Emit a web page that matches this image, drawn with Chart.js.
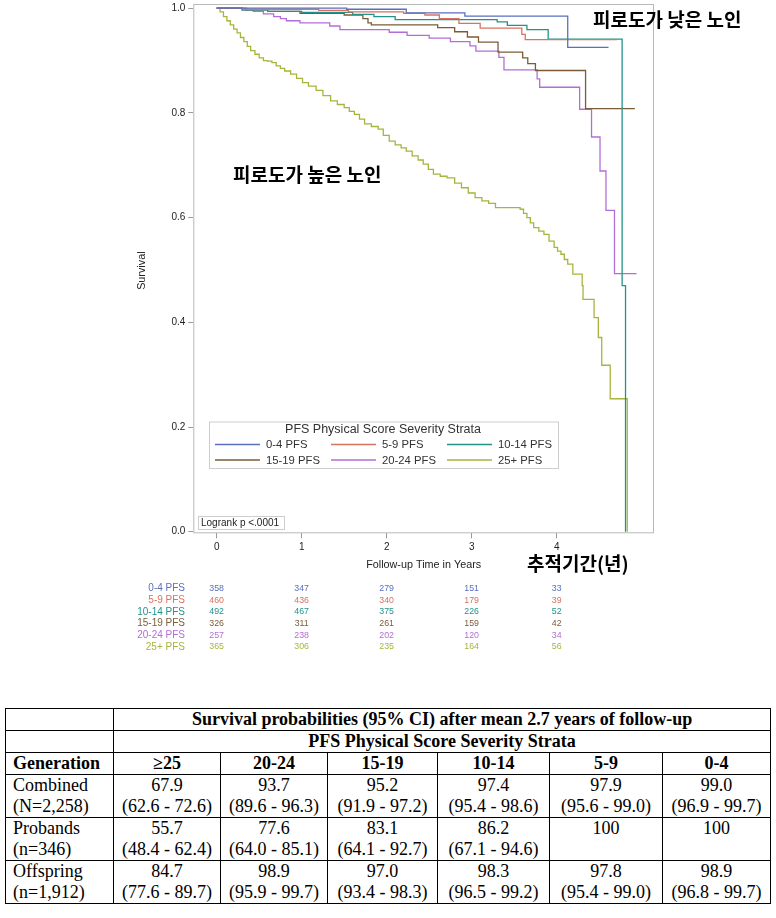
<!DOCTYPE html>
<html>
<head>
<meta charset="utf-8">
<script src="https://cdn.jsdelivr.net/npm/chart.js@4.4.1/dist/chart.umd.min.js"></script>
<style>
  html, body { margin: 0; padding: 0; background: #fff; }
  body { width: 776px; height: 918px; position: relative; overflow: hidden; }
  #km { position: absolute; left: 0; top: 0; }
  table {
    position: absolute; left: 5px; top: 708px; width: 765px;
    border-collapse: collapse; table-layout: fixed;
    font-family: "Liberation Serif", "Times New Roman", serif; font-size: 18px; color: #000;
  }
  td { border: 1.5px solid #000; padding: 0 4px; line-height: 21px; text-align: center; white-space: nowrap; }
  tr.h td { height: 21px; font-weight: bold; }
  tr.d td { height: 42px; }
  td.l { text-align: left; padding-left: 7px; }
</style>
</head>
<body>
<canvas id="km" width="776" height="700"></canvas>
<table>
  <colgroup>
    <col style="width:108px"><col style="width:107px"><col style="width:107px"><col style="width:110px">
    <col style="width:112px"><col style="width:113px"><col style="width:108px">
  </colgroup>
  <tbody id="tbl"></tbody>
</table>
<script>
// strata and colours
const strata = ["0-4 PFS", "5-9 PFS", "10-14 PFS", "15-19 PFS", "20-24 PFS", "25+ PFS"];
const colors = ["#5a6fbe", "#d8735f", "#23938a", "#7c5c38", "#b36ed6", "#a8b43c"];

// Kaplan-Meier steps (time in years, survival)
const t04 = [0, 1.53, 2.23, 2.92, 4.13, 4.61];
const s04 = [1, 0.998, 0.991, 0.985, 0.925, 0.925];

const t59 = [0, 0.3, 1.2, 1.55, 2.2, 2.45, 2.62, 2.85, 3.1, 3.59, 3.63, 4.71];
const s59 = [1, 0.998, 0.996, 0.993, 0.99, 0.987, 0.98, 0.971, 0.962, 0.95, 0.94, 0.94];

const t1014 = [0, 0.3, 0.6, 1.0, 1.6, 1.85, 2.1, 3.3, 3.42, 3.65, 3.9, 4.77, 4.81];
const s1014 = [1, 0.997, 0.994, 0.992, 0.988, 0.984, 0.978, 0.974, 0.967, 0.959, 0.941, 0.47, 0];

const t1519 = [0, 0.3, 0.6, 0.98, 1.5, 1.72, 1.78, 1.82, 2.6, 2.8, 2.95, 3.08, 3.31, 3.6, 3.66, 3.75, 4.34, 4.92];
const s1519 = [1, 0.997, 0.994, 0.99, 0.987, 0.98, 0.972, 0.968, 0.963, 0.955, 0.945, 0.935, 0.916, 0.905, 0.894, 0.881, 0.808, 0.808];

const t2024 = [0, 0.35, 0.43, 0.55, 0.67, 0.75, 0.82, 0.98, 1.33, 1.45, 2.03, 2.24, 2.5, 2.75, 2.98, 3.05, 3.32, 3.38, 3.77, 3.8, 4.27, 4.41, 4.51, 4.58, 4.68, 4.94];
const s2024 = [1, 0.997, 0.994, 0.989, 0.984, 0.98, 0.976, 0.972, 0.966, 0.959, 0.954, 0.948, 0.943, 0.936, 0.928, 0.918, 0.906, 0.882, 0.865, 0.849, 0.807, 0.754, 0.689, 0.614, 0.493, 0.493];

const t25 = [0, 0.04, 0.08, 0.12, 0.16, 0.2, 0.24, 0.28, 0.32, 0.36,
  0.40, 0.45, 0.5, 0.55, 0.6, 0.65, 0.7, 0.75, 0.8, 0.87,
  0.94, 1.01, 1.08, 1.17, 1.25, 1.34, 1.42, 1.5, 1.56, 1.62,
  1.68, 1.74, 1.82, 1.9, 1.96, 2.03, 2.1, 2.17, 2.23, 2.3,
  2.37, 2.43, 2.49, 2.55, 2.63, 2.71, 2.8, 2.88, 2.96, 3.04,
  3.12, 3.2, 3.28, 3.57, 3.61, 3.65, 3.69, 3.73, 3.79, 3.85,
  3.91, 3.97, 4.01, 4.05, 4.09, 4.13, 4.19, 4.3, 4.31, 4.44,
  4.49, 4.53, 4.63, 4.83];
const s25 = [1, 0.993, 0.984, 0.976, 0.968, 0.96, 0.953, 0.944, 0.936, 0.927,
  0.919, 0.912, 0.905, 0.9, 0.899, 0.896, 0.89, 0.885, 0.88, 0.874,
  0.866, 0.858, 0.851, 0.843, 0.833, 0.823, 0.816, 0.81, 0.803, 0.797,
  0.788, 0.779, 0.774, 0.769, 0.757, 0.746, 0.739, 0.733, 0.727, 0.718,
  0.71, 0.702, 0.692, 0.683, 0.679, 0.676, 0.666, 0.657, 0.647, 0.638,
  0.632, 0.627, 0.619, 0.616, 0.608, 0.6, 0.59, 0.581, 0.574, 0.568,
  0.555, 0.543, 0.536, 0.53, 0.52, 0.511, 0.492, 0.47, 0.444, 0.409,
  0.371, 0.318, 0.254, 0];

// numbers at risk
const riskTimes = [0, 1, 2, 3, 4];
const risk04 = [358, 347, 279, 151, 33];
const risk59 = [460, 436, 340, 179, 39];
const risk1014 = [492, 467, 375, 226, 52];
const risk1519 = [326, 311, 261, 159, 42];
const risk2024 = [257, 238, 202, 120, 34];
const risk25 = [365, 306, 235, 164, 56];

// table below the plot
const tableTitle = "Survival probabilities (95% CI) after mean 2.7 years of follow-up";
const tableSub = "PFS Physical Score Severity Strata";
const tableCols = ["\u226525", "20-24", "15-19", "10-14", "5-9", "0-4"];
const groups = ["Combined", "Probands", "Offspring"];
const groupN = ["(N=2,258)", "(n=346)", "(n=1,912)"];
const estCombined = ["67.9", "93.7", "95.2", "97.4", "97.9", "99.0"];
const ciCombined = ["(62.6 - 72.6)", "(89.6 - 96.3)", "(91.9 - 97.2)", "(95.4 - 98.6)", "(95.6 - 99.0)", "(96.9 - 99.7)"];
const estProbands = ["55.7", "77.6", "83.1", "86.2", "100", "100"];
const ciProbands = ["(48.4 - 62.4)", "(64.0 - 85.1)", "(64.1 - 92.7)", "(67.1 - 94.6)", "", ""];
const estOffspring = ["84.7", "98.9", "97.0", "98.3", "97.8", "98.9"];
const ciOffspring = ["(77.6 - 89.7)", "(95.9 - 99.7)", "(93.4 - 98.3)", "(96.5 - 99.2)", "(95.4 - 99.0)", "(96.8 - 99.7)"];

const curves = [[t04, s04], [t59, s59], [t1014, s1014], [t1519, s1519], [t2024, s2024], [t25, s25]];
const risks = [risk04, risk59, risk1014, risk1519, risk2024, risk25];

const SANS = '"Liberation Sans", Arial, sans-serif';
const KR = '"Noto Sans CJK KR", sans-serif';

const extras = {
  id: "extras",
  beforeDatasetsDraw(chart) {
    const { ctx, chartArea: a } = chart;
    ctx.save();
    ctx.strokeStyle = "#b9b9b9";
    ctx.lineWidth = 1;
    ctx.strokeRect(a.left + 0.5, a.top + 0.5, a.right - a.left - 1, a.bottom - a.top - 1);
    ctx.restore();
  },
  afterDatasetsDraw(chart) {
    const { ctx, chartArea: a, scales: { x } } = chart;
    ctx.save();

    // legend box
    const lx = 209, ly = 421.5, lw = 349, lh = 46.5;
    ctx.fillStyle = "#fff";
    ctx.fillRect(lx, ly, lw, lh);
    ctx.strokeStyle = "#cdcdcd";
    ctx.lineWidth = 1;
    ctx.strokeRect(lx + 0.5, ly + 0.5, lw, lh);
    ctx.fillStyle = "#333";
    ctx.font = "12.5px " + SANS;
    ctx.textAlign = "center";
    ctx.textBaseline = "middle";
    ctx.fillText("PFS Physical Score Severity Strata", lx + lw / 2 - 0.5, ly + 8);
    ctx.font = "11.3px " + SANS;
    ctx.textAlign = "left";
    const colX = [215, 331, 447];
    const rowY = [444.5, 460];
    strata.forEach((name, i) => {
      const cx = colX[i % 3], cy = rowY[Math.floor(i / 3)];
      ctx.strokeStyle = colors[i];
      ctx.lineWidth = 1.3;
      ctx.beginPath();
      ctx.moveTo(cx, cy);
      ctx.lineTo(cx + 45, cy);
      ctx.stroke();
      ctx.fillStyle = "#333";
      ctx.fillText(name, cx + 51, cy + 0.5);
    });

    // logrank box
    ctx.fillStyle = "#fff";
    ctx.fillRect(198, 516.5, 86, 13);
    ctx.strokeStyle = "#cdcdcd";
    ctx.lineWidth = 1;
    ctx.strokeRect(198.5, 516.5, 86, 13);
    ctx.fillStyle = "#222";
    ctx.font = "10px " + SANS;
    ctx.fillText("Logrank p <.0001", 201, 523.5);

    // axis titles
    ctx.font = "10.8px " + SANS;
    ctx.textAlign = "center";
    ctx.fillText("Follow-up Time in Years", (a.left + a.right) / 2, 565);
    ctx.save();
    ctx.translate(142, (a.top + a.bottom) / 2 + 2);
    ctx.rotate(-Math.PI / 2);
    ctx.fillText("Survival", 0, 0);
    ctx.restore();

    // numbers at risk
    strata.forEach((name, i) => {
      const ry = 588.5 + i * 11.65;
      ctx.fillStyle = colors[i];
      ctx.font = "10px " + SANS;
      ctx.textAlign = "right";
      ctx.fillText(name, 185, ry);
      ctx.font = "8.8px " + SANS;
      ctx.textAlign = "center";
      risks[i].forEach((n, j) => ctx.fillText(String(n), x.getPixelForValue(riskTimes[j]), ry));
    });

    // Korean annotations
    ctx.fillStyle = "#000";
    ctx.font = "bold 19px " + KR;
    ctx.textAlign = "left";
    ctx.fillText("피로도가 낮은 노인", 593, 20);
    ctx.fillText("피로도가 높은 노인", 233, 175);
    ctx.fillText("추적기간(년)", 527, 564);
    ctx.restore();
  }
};

new Chart(document.getElementById("km").getContext("2d"), {
  type: "line",
  data: {
    datasets: curves.map(([ts, ss], i) => ({
      label: strata[i],
      data: ts.map((t, k) => ({ x: t, y: ss[k] })),
      borderColor: colors[i],
      borderWidth: 1.3,
      stepped: "before",
      pointRadius: 0,
      fill: false,
    })),
  },
  options: {
    responsive: false,
    animation: false,
    layout: { padding: { left: 0, top: 4, right: 122, bottom: 0 } },
    plugins: { legend: { display: false }, tooltip: { enabled: false } },
    scales: {
      x: {
        type: "linear",
        min: -0.275,
        max: 5.145,
        border: { display: false },
        grid: { drawOnChartArea: false, drawTicks: true, tickLength: 5, color: "#999" },
        ticks: { stepSize: 1, includeBounds: false, padding: 3, color: "#222", font: { family: SANS, size: 10 } },
        afterBuildTicks: (s) => { s.ticks = s.ticks.filter((t) => t.value >= 0 && t.value <= 4); },
        afterFit: (s) => { s.height = 166.7; s.paddingLeft = 0; s.paddingRight = 0; },
      },
      y: {
        min: -0.003,
        max: 1.008,
        border: { display: false },
        grid: { drawOnChartArea: false, drawTicks: true, tickLength: 5, color: "#999" },
        ticks: {
          stepSize: 0.2, includeBounds: false, padding: 3, color: "#222",
          font: { family: SANS, size: 10 },
          callback: (v) => v.toFixed(1),
        },
        afterFit: (s) => { s.width = 193.3; s.paddingTop = 0; s.paddingBottom = 0; },
      },
    },
  },
  plugins: [extras],
});

// build the table
const tbl = document.getElementById("tbl");
let html = "";
html += '<tr class="h"><td></td><td colspan="6">' + tableTitle + "</td></tr>";
html += '<tr class="h"><td></td><td colspan="6">' + tableSub + "</td></tr>";
html += '<tr class="h"><td class="l">Generation</td>' + tableCols.map((c) => "<td>" + c + "</td>").join("") + "</tr>";
const ests = [estCombined, estProbands, estOffspring];
const cis = [ciCombined, ciProbands, ciOffspring];
groups.forEach((g, i) => {
  html += '<tr class="d"><td class="l">' + g + "<br>" + groupN[i] + "</td>";
  ests[i].forEach((e, j) => { html += "<td>" + e + "<br>" + (cis[i][j] || "&nbsp;") + "</td>"; });
  html += "</tr>";
});
tbl.innerHTML = html;
</script>
</body>
</html>
